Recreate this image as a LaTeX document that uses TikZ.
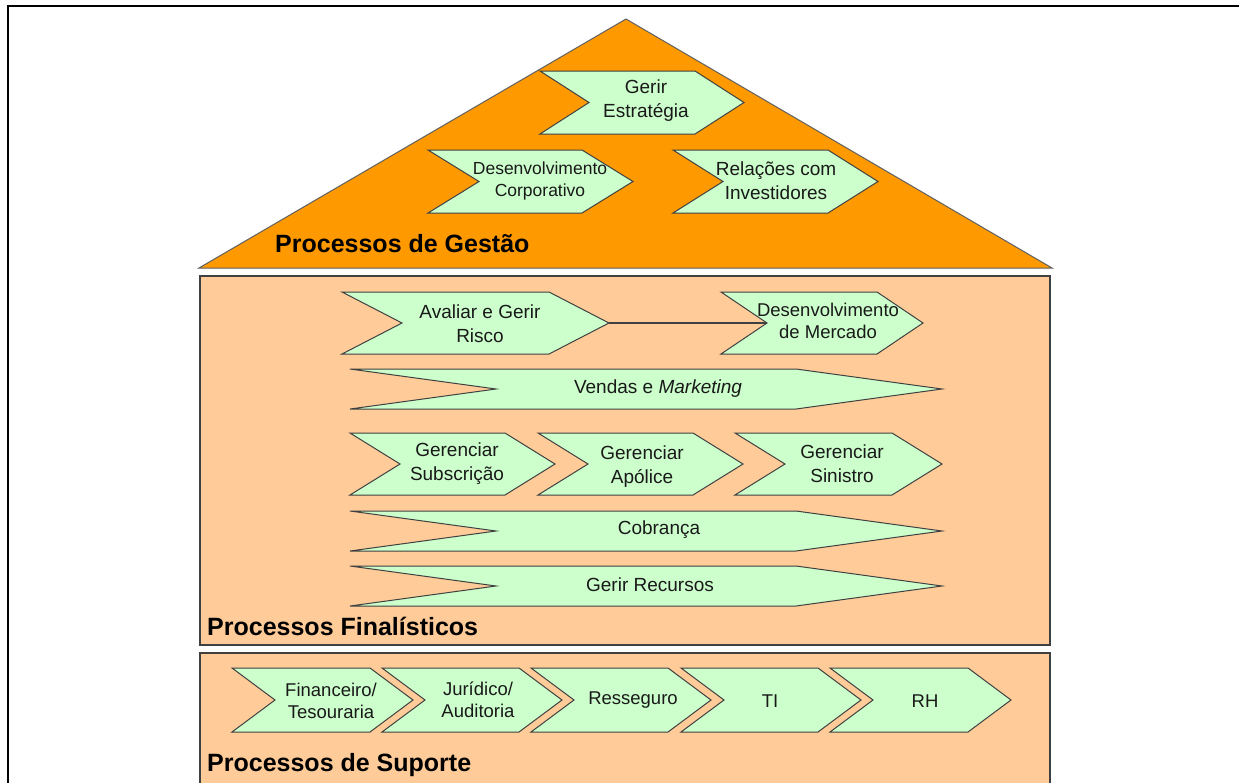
\documentclass[tikz,border=0pt]{standalone}
\usepackage{fontspec}
\setmainfont{Liberation Sans}
\definecolor{orangeG}{HTML}{FF9900}
\definecolor{peach}{HTML}{FFCC99}
\definecolor{chevgreen}{HTML}{CCFFCC}
\definecolor{edgegray}{HTML}{404040}
\definecolor{trigray}{HTML}{606060}
% name, x left, y top, x tip, y bottom, depth
\newcommand{\mychev}[6]{%
  \filldraw[chevstyle] ({#2},{#3}) -- ({#4-#6},{#3}) -- ({#4},{(#3+#5)/2}) -- ({#4-#6},{#5}) -- ({#2},{#5}) -- ({#2+#6},{(#3+#5)/2}) -- cycle;
  \coordinate (#1-tip) at ({#4},{(#3+#5)/2});
  \coordinate (#1-notch) at ({#2+#6},{(#3+#5)/2});
}
\begin{document}
\begin{tikzpicture}[x=1pt, y=-1pt,
  chevstyle/.style={fill=chevgreen, draw=edgegray, line width=1pt, line join=miter},
  lbl/.style={font=\fontsize{19}{24}\selectfont, align=center, inner sep=0pt, text=black!90},
  lbls/.style={font=\fontsize{18.5}{22.5}\selectfont, align=center, inner sep=0pt, text=black!90},
  title/.style={font=\fontsize{25}{29}\selectfont\bfseries, anchor=west, inner sep=0pt}]
\clip (0,0) rectangle (1239,782);
\fill[white] (0,0) rectangle (1239,782);
% outer frame
\draw[line width=2.8pt, black] (8,6) rectangle (1260,800);
% management triangle
\filldraw[fill=orangeG, draw=trigray, line width=1pt] (626,19) -- (1052,268) -- (199,268) -- cycle;
% bands
\filldraw[fill=peach, draw=edgegray, line width=1.5pt] (200,276) rectangle (1050,645);
\filldraw[fill=peach, draw=edgegray, line width=1.5pt] (200,653) rectangle (1050,800);

% --- Processos de Gestao
\mychev{ge}{540}{71}{744}{134}{49}
\mychev{dc}{428}{150}{633}{213}{51}
\mychev{ri}{673}{150}{878}{213}{50}
\node[lbl] (tge) at (646,100.5) {Gerir\\Estratégia};
\node[lbl, font=\fontsize{17.5}{22}\selectfont] (tdc) at (540,181) {Desenvolvimento\\Corporativo};
\node[lbl] (tri) at (776,180.5) {Relações com\\Investidores};
\node[title] (pg) at (275,244) {Processos de Gestão};

% --- Processos Finalisticos
\mychev{ar}{342}{292}{609}{354}{60}
\mychev{dm}{721}{292}{923}{354}{46}
\draw[edgegray, line width=1.2pt] (ar-tip) -- (dm-notch);
\mychev{vm}{350}{369}{942}{409}{146}
\mychev{gs}{350}{433}{555}{495}{50}
\mychev{ga}{538}{433}{743}{495}{50}
\mychev{gi}{735}{433}{942}{495}{50}
\mychev{cb}{350}{511}{942}{551}{146}
\mychev{gr}{350}{566}{942}{606}{146}
\node[lbl] (tar) at (480,323.5) {Avaliar e Gerir\\Risco};
\node[lbl, font=\fontsize{18.5}{22}\selectfont] (tdm) at (828,321) {Desenvolvimento\\de Mercado};
\node[lbl] (tvm) at (658,389) {Vendas e \textit{Marketing}};
\node[lbl] (tgs) at (457,464) {Gerenciar\\Subscrição};
\node[lbl] (tga) at (642,466.5) {Gerenciar\\Apólice};
\node[lbl] (tgi) at (842,463.5) {Gerenciar\\Sinistro};
\node[lbl] (tcb) at (659,530) {Cobrança};
\node[lbl] (tgr) at (650,585) {Gerir Recursos};
\node[title] (pf) at (207,626) {Processos Finalísticos};

% --- Processos de Suporte
\mychev{fi}{232}{668}{413}{732}{43}
\mychev{ju}{382}{668}{562}{732}{43}
\mychev{re}{531}{668}{711}{732}{43}
\mychev{ti}{681}{668}{861}{732}{43}
\mychev{rh}{830}{668}{1011}{732}{43}
\node[lbls] (tfi) at (331,701) {Financeiro/\\Tesouraria};
\node[lbls] (tju) at (478,700) {Jurídico/\\Auditoria};
\node[lbls] (tre) at (633,700) {Resseguro};
\node[lbls] (tti) at (770,701) {TI};
\node[lbls] (trh) at (925,701) {RH};
\node[title] (ps) at (207,765) {Processos de Suporte};
\end{tikzpicture}
\end{document}
